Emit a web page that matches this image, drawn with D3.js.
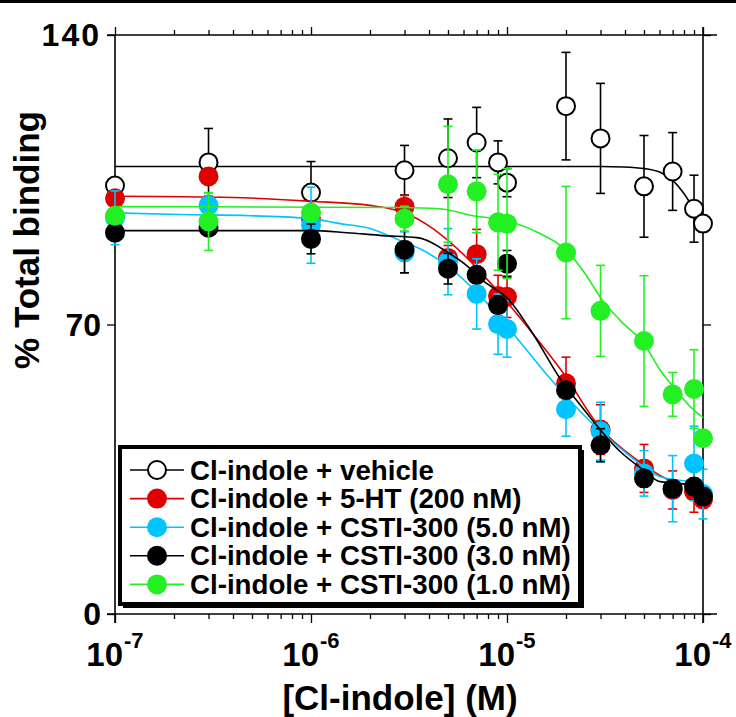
<!DOCTYPE html>
<html><head><meta charset="utf-8">
<script src="https://cdn.jsdelivr.net/npm/d3@7"></script>
<style>body{margin:0;background:#fff}svg{display:block}</style>
</head><body>
<svg id="chart" width="736" height="717"></svg>
<script>
// ---------- data ----------
const conc = [1e-7, 3e-7, 1e-6, 3e-6, 5e-6, 7e-6, 9e-6, 1e-5, 2e-5, 3e-5, 5e-5, 7e-5, 9e-5, 1e-4];
const vehicle    = [103.6, 109.2, 101.9, 107.3, 110.2, 114.0, 109.2, 104.3, 122.8, 115.0, 103.4, 107.0, 98.0, 94.4];
const vehicleErr = [1, 8.2, 7.5, 6, 9.5, 8.5, 5.2, 3.4, 13, 13.3, 12.3, 9.4, 8.1, 2];
const serotonin    = [100.5, 105.8, 95.5, 98.5, 86.1, 87.0, 76.9, 76.7, 55.8, 44.6, 35.2, 30.0, 29.6, 27.7];
const serotoninErr = [1, 1, 2, 2.7, 3, 6, 5, 5, 6.3, 6, 5.8, 4.6, 5, 2];
const csti5    = [95.8, 98.8, 94.0, 87.4, 85.2, 77.4, 70.1, 68.9, 49.5, 44.2, 34.0, 30.3, 36.4, 29.0];
const csti5Err = [6.5, 3, 9.2, 5, 8, 8.5, 7.3, 6.8, 6.5, 7, 5.5, 8, 9, 6];
const csti3    = [92.2, 93.4, 90.7, 88.1, 83.5, 82.0, 74.7, 84.7, 54.1, 40.8, 32.8, 30.3, 30.8, 28.4];
const csti3Err = [1, 1, 3.6, 5.6, 3.7, 2, 2, 3.2, 2, 4, 2, 2, 2, 2];
const csti1    = [96.3, 94.9, 97.0, 95.6, 103.9, 102.2, 94.7, 94.4, 87.4, 73.3, 66.0, 53.1, 54.4, 42.5];
const csti1Err = [1, 7, 2, 3, 14, 10, 11.6, 13.3, 16, 11, 15.8, 5.3, 9.5, 2];

// fitted curves (log10 concentration, % binding)
const vehicleFitLogX = [-7, -4.52, -4.408, -4.296, -4.219, -4.153, -4.102, -4.051, -4.0];
const vehicleFitY    = [108.2, 108.2, 108.1, 107.7, 106.8, 104.8, 102.0, 98.3, 94.4];
const serotoninFitLogX = [-7, -6.398, -6.0, -5.699, -5.51, -5.378, -5.204, -5.036, -4.867, -4.694, -4.561, -4.306, -4.153, -4.0];
const serotoninFitY    = [101, 100.7, 99.8, 98.8, 96.8, 93.2, 86.1, 77.4, 67.7, 57.0, 47.3, 36.2, 32.0, 30.8];
const csti5FitLogX = [-7, -6.668, -6.311, -6.0, -5.852, -5.699, -5.546, -5.444, -5.291, -5.122, -4.949, -4.781, -4.612, -4.388, -4.219, -4.051, -4.0];
const csti5FitY    = [97, 96.6, 96.3, 95.6, 94.4, 93.2, 90.3, 88.3, 83.7, 76.2, 66.7, 57.0, 48.3, 38.8, 33.2, 32.0, 31.8];
const csti3FitLogX = [-7, -6.0, -5.816, -5.633, -5.459, -5.291, -5.204, -5.122, -4.985, -4.867, -4.73, -4.612, -4.423, -4.306, -4.219, -4.051, -4.0];
const csti3FitY    = [92.7, 92.7, 92.2, 91.5, 91.0, 87.1, 84.2, 80.6, 75.7, 67.7, 57.0, 49.7, 39.3, 34.9, 32.0, 31.3, 31.0];
const csti1FitLogX = [-7, -5.546, -5.342, -5.173, -5.0, -4.832, -4.699, -4.612, -4.515, -4.423, -4.296, -4.219, -4.153, -4.051, -4.0];
const csti1FitY    = [98.5, 98.3, 98.0, 96.3, 95.1, 92.0, 88.0, 83.0, 76.0, 71.0, 65.0, 59.0, 55.0, 49.5, 47.5];

const yTicks = [0, 70, 140];
const xDecades = [1e-7, 1e-6, 1e-5, 1e-4];
const xDecadeExp = ["-7", "-6", "-5", "-4"];
const legendLabels = ["Cl-indole + vehicle", "Cl-indole + 5-HT (200 nM)", "Cl-indole + CSTI-300 (5.0 nM)", "Cl-indole + CSTI-300 (3.0 nM)", "Cl-indole + CSTI-300 (1.0 nM)"];

const series = [
  {name: legendLabels[0], vals: vehicle, err: vehicleErr, fx: vehicleFitLogX, fy: vehicleFitY, color: "#000000", open: true},
  {name: legendLabels[1], vals: serotonin, err: serotoninErr, fx: serotoninFitLogX, fy: serotoninFitY, color: "#e00000"},
  {name: legendLabels[2], vals: csti5, err: csti5Err, fx: csti5FitLogX, fy: csti5FitY, color: "#00c4ff"},
  {name: legendLabels[3], vals: csti3, err: csti3Err, fx: csti3FitLogX, fy: csti3FitY, color: "#000000"},
  {name: legendLabels[4], vals: csti1, err: csti1Err, fx: csti1FitLogX, fy: csti1FitY, color: "#22f022"}
];

// ---------- layout ----------
const FONT = "'Liberation Sans', Arial, Helvetica, sans-serif";
const L = 115, R = 703, T = 35, B = 614;
const svg = d3.select("#chart");
const x = d3.scaleLog().domain([1e-7, 1e-4]).range([L, R]);
const y = d3.scaleLinear().domain([0, 140]).range([B, T]);

svg.append("rect").attr("x", 0).attr("y", 0).attr("width", 736).attr("height", 3).attr("fill", "#000");

// minor log ticks
const minor = [];
for (let e = -7; e < -4; e++) for (let m = 2; m <= 9; m++) minor.push(m * Math.pow(10, e));

function styleAxis(g) {
  g.select(".domain").remove();
  g.selectAll("line").attr("stroke", "#000").attr("stroke-width", 1.3);
}
svg.append("g").attr("transform", `translate(0,${B})`)
  .call(d3.axisBottom(x).tickValues(minor).tickSize(5).tickFormat("")).call(styleAxis);
svg.append("g").attr("transform", `translate(0,${B})`)
  .call(d3.axisBottom(x).tickValues(xDecades).tickSize(9).tickFormat("")).call(styleAxis);
svg.append("g").attr("transform", `translate(0,${T})`)
  .call(d3.axisTop(x).tickValues(minor).tickSize(5).tickFormat("")).call(styleAxis);
svg.append("g").attr("transform", `translate(0,${T})`)
  .call(d3.axisTop(x).tickValues(xDecades).tickSize(8).tickFormat("")).call(styleAxis);

const yl = svg.append("g").attr("transform", `translate(${L},0)`)
  .call(d3.axisLeft(y).tickValues(yTicks).tickSize(8).tickPadding(6).tickFormat(d3.format("d")));
yl.call(styleAxis);
yl.selectAll("text").attr("font-family", FONT).attr("font-weight", "bold").attr("font-size", 32).attr("fill", "#000").attr("dy", "0.33em")
  .attr("letter-spacing", d => d === 140 ? 2 : 0);
svg.append("g").attr("transform", `translate(${R},0)`)
  .call(d3.axisRight(y).tickValues(yTicks).tickSize(8).tickFormat("")).call(styleAxis);

// axis lines
const axLines = [[L - 8, B, R + 14, B], [L - 8, T, R + 14, T], [L, T, L, B + 9], [R, T - 8, R, B + 9]];
svg.selectAll(".axl").data(axLines).enter().append("line")
  .attr("x1", d => d[0]).attr("y1", d => d[1]).attr("x2", d => d[2]).attr("y2", d => d[3])
  .attr("stroke", "#000").attr("stroke-width", 1.6);

// x tick labels 10^n
const xl = svg.append("g").attr("font-family", FONT).attr("font-weight", "bold").attr("fill", "#000");
xDecades.forEach((v, i) => {
  xl.append("text").attr("x", x(v) + 8).attr("y", 666).attr("text-anchor", "end").attr("font-size", 33).text("10");
  xl.append("text").attr("x", x(v) + 9).attr("y", 648).attr("text-anchor", "start").attr("font-size", 22).text(xDecadeExp[i]);
});

// axis titles
svg.append("text").attr("x", 400).attr("y", 710).attr("text-anchor", "middle")
  .attr("font-family", FONT).attr("font-weight", "bold").attr("font-size", 35).text("[Cl-indole] (M)");
svg.append("text").attr("transform", "translate(39,240) rotate(-90)").attr("text-anchor", "middle")
  .attr("font-family", FONT).attr("font-weight", "bold").attr("font-size", 35).text("% Total binding");

// ---------- data layers ----------
const line = d3.line().x(d => x(Math.pow(10, d[0]))).y(d => y(d[1])).curve(d3.curveMonotoneX);
const plot = svg.append("g");
series.forEach(s => {
  const g = plot.append("g");
  const pts = s.fx.map((lx, i) => [lx, s.fy[i]]);
  g.append("path").attr("d", line(pts)).attr("fill", "none").attr("stroke", s.color).attr("stroke-width", 1.6);
  const ebColor = s.color;
  conc.forEach((c, i) => {
    const cx = x(c), y1 = y(s.vals[i] + s.err[i]), y2 = y(s.vals[i] - s.err[i]);
    g.append("line").attr("x1", cx).attr("x2", cx).attr("y1", y1).attr("y2", y2).attr("stroke", ebColor).attr("stroke-width", 1.6);
    [y1, y2].forEach(yy => g.append("line").attr("x1", cx - 4.5).attr("x2", cx + 4.5).attr("y1", yy).attr("y2", yy).attr("stroke", ebColor).attr("stroke-width", 1.6));
  });
  conc.forEach((c, i) => {
    g.append("circle").attr("cx", x(c)).attr("cy", y(s.vals[i])).attr("r", s.open ? 9 : 10)
      .attr("fill", s.open ? "#fff" : s.color)
      .attr("stroke", s.open ? "#000" : "none").attr("stroke-width", 2);
  });
});

// ---------- legend ----------
const lg = svg.append("g");
lg.append("rect").attr("x", 123).attr("y", 450).attr("width", 461).attr("height", 158).attr("fill", "#000");
lg.append("rect").attr("x", 120).attr("y", 447).attr("width", 460).attr("height", 157).attr("fill", "#fff").attr("stroke", "#000").attr("stroke-width", 4);
series.forEach((s, i) => {
  const cy = 470 + i * 28.6;
  lg.append("line").attr("x1", 130).attr("x2", 184).attr("y1", cy).attr("y2", cy).attr("stroke", s.color).attr("stroke-width", 1.6);
  lg.append("circle").attr("cx", 157).attr("cy", cy).attr("r", s.open ? 9 : 10)
    .attr("fill", s.open ? "#fff" : s.color).attr("stroke", s.open ? "#000" : "none").attr("stroke-width", 2);
  lg.append("text").attr("x", 190).attr("y", cy + 9.5).attr("font-family", FONT).attr("font-weight", "bold")
    .attr("font-size", 27.7).attr("fill", "#000").text(s.name);
});
</script>
</body></html>
